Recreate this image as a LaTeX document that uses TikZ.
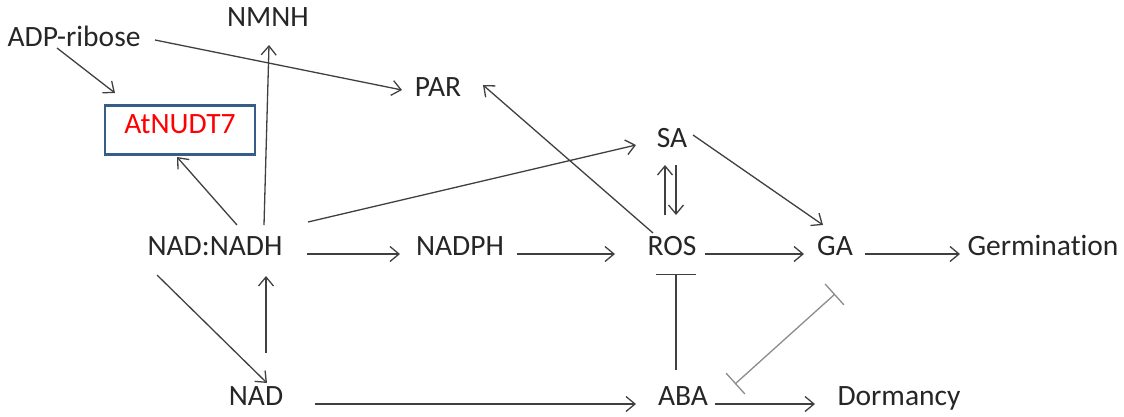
\documentclass[tikz,border=0pt]{standalone}
\usepackage{fontspec}
\setmainfont{Carlito}[Ligatures={NoCommon}]
\usetikzlibrary{arrows.meta,calc}
\definecolor{ink}{HTML}{262626}
\definecolor{edge}{HTML}{404040}
\definecolor{inhib}{HTML}{8C8C8C}
\definecolor{boxblue}{HTML}{385D8A}
\tikzset{
  lbl/.style={inner sep=0pt, text=ink, font=\fontsize{29.5}{34}\selectfont,
              text height=0.6em, text depth=0.3em},
  enzyme/.style={draw=boxblue, line width=2.8pt, minimum width=150pt, minimum height=49pt,
                 inner sep=0pt, text=red, font=\fontsize{29.5}{34}\selectfont,
                 text height=0.65em, text depth=0pt},
  act/.style={draw=edge, line width=1.3pt, -{Straight Barb[length=9pt,width=15pt,line width=1.3pt]}},
  inh/.style={draw=edge, line width=1.3pt, -{Bar[width=40pt,line width=1.3pt]}},
  mutual/.style={draw=inhib, line width=1.3pt, {Bar[width=28pt,line width=1.3pt]}-{Bar[width=28pt,line width=1.3pt]}}
}
\begin{document}
\begin{tikzpicture}[x=1pt,y=-1pt]
\useasboundingbox (0,0) rectangle (1124,416);

% metabolites, hormones and outcomes
\node[lbl] (adp)     at (74,45)   {ADP-ribose};
\node[lbl] (nmnh)    at (268,25)  {NMNH};
\node[lbl] (par)     at (438,95)  {PAR};
\node[enzyme] (nudt) at (180,130) {AtNUDT7};
\node[lbl] (sa)      at (672,146) {SA};
\node[lbl] (nadnadh) at (215,254) {NAD:NADH};
\node[lbl] (nadph)   at (460,254) {NADPH};
\node[lbl] (ros)     at (672,254) {ROS};
\node[lbl] (ga)      at (835,254) {GA};
\node[lbl] (germ)    at (1043,254){Germination};
\node[lbl] (nad)     at (256,404) {NAD};
\node[lbl] (aba)     at (683,404) {ABA};
\node[lbl] (dorm)    at (899,404) {Dormancy};

% activating links
\draw[act] ($(adp)+(-17,3)$)     -- ($(nudt)+(-65,-37)$);
\draw[act] ($(adp)+(81,-5)$)     -- ($(par)+(-36,-5)$);
\draw[act] ($(nadnadh)+(22,-29)$) -- ($(nudt)+(-3,27)$);
\draw[act] ($(nadnadh)+(49,-29)$) -- ($(nmnh)+(1,20)$);
\draw[act] ($(nadnadh)+(93,-32)$) -- ($(sa)+(-36,-1)$);
\draw[act] ($(nadnadh)+(92,0)$)  -- ($(nadph)+(-60,0)$);
\draw[act] ($(nadph)+(57,0)$)    -- ($(ros)+(-57,0)$);
\draw[act] ($(ros)+(-19,-21)$)   -- ($(par)+(45,-10)$);
\draw[act] ($(ros)+(-7,-39)$)    -- ($(sa)+(-7,19)$);
\draw[act] ($(sa)+(4,19)$)       -- ($(ros)+(4,-39)$);
\draw[act] ($(sa)+(21,-11)$)     -- ($(ga)+(-12,-29)$);
\draw[act] ($(ros)+(33,0)$)      -- ($(ga)+(-31,0)$);
\draw[act] ($(ga)+(30,0)$)       -- ($(germ)+(-83,0)$);
\draw[act] ($(nadnadh)+(-58,21)$) -- ($(nad)+(11,-21)$);
\draw[act] ($(nad)+(10,-51)$)    -- ($(nadnadh)+(51,22)$);
\draw[act] ($(nad)+(59,0)$)      -- ($(aba)+(-47,0)$);
\draw[act] ($(aba)+(32,0)$)      -- ($(dorm)+(-84,0)$);

% inhibitory links
\draw[inh] ($(aba)+(-7,-34)$) -- ($(ros)+(4,20)$);
\draw[mutual] ($(aba)+(52,-20)$) -- ($(ga)+(0,40)$);
\end{tikzpicture}
\end{document}
